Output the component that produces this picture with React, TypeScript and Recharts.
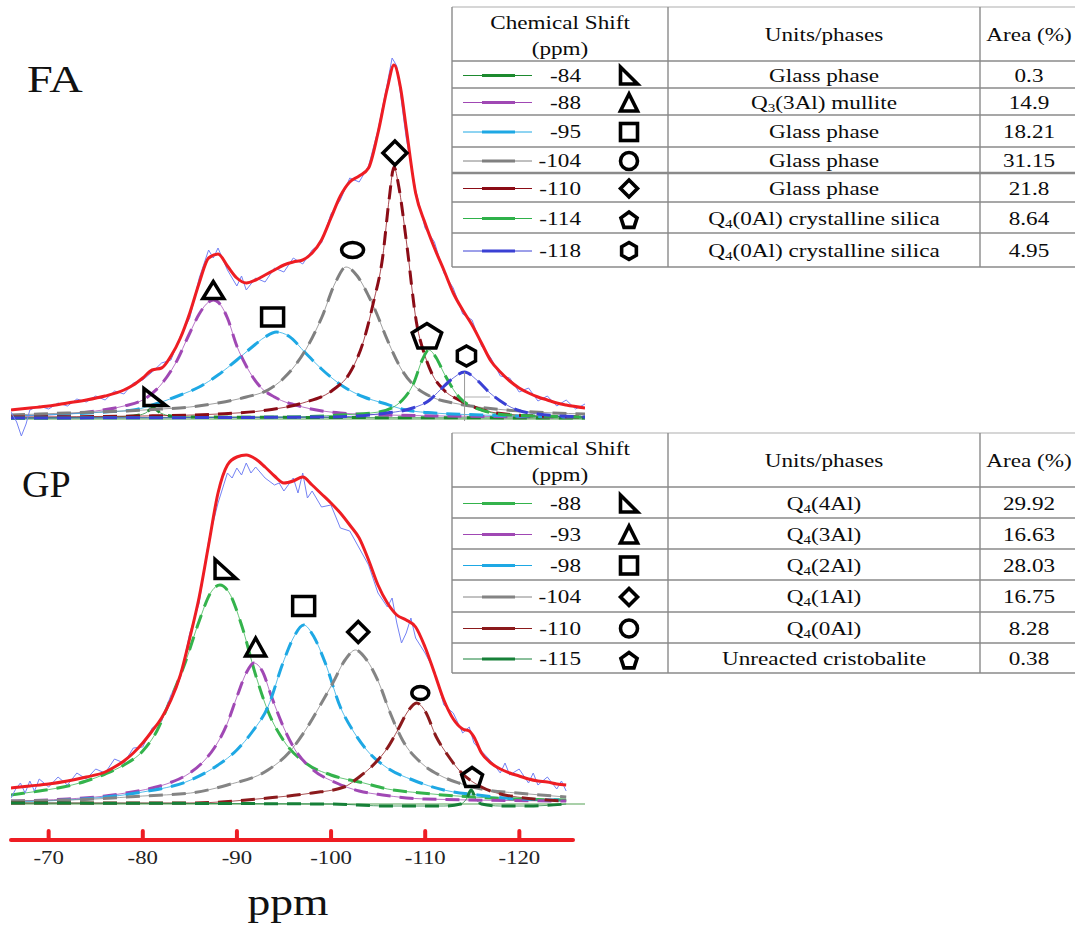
import React from "react";
import { LineChart, Line, XAxis, YAxis, ReferenceLine, ReferenceDot } from "recharts";

type Pt = [number, number];

// ---------- FA spectrum: [ppm, intensity above baseline] ----------
const faExp: Pt[] = [
  [-66, 6], [-66.6, -4], [-67.1, -18], [-67.6, -6], [-68, 8], [-69, 12], [-70, 9], [-71, 15], [-72, 12],
  [-73, 19], [-74, 16], [-75, 22], [-76, 18], [-77, 27], [-78, 24], [-79, 35], [-80, 38], [-81, 46],
  [-82, 55], [-83, 58], [-84, 82], [-85, 100], [-86, 140], [-87, 168], [-87.5, 160], [-88, 170],
  [-89, 148], [-90, 132], [-90.5, 142], [-91, 128], [-92, 140], [-93, 136], [-94, 150], [-95, 146],
  [-96, 160], [-97, 154], [-98, 168], [-99, 175], [-100, 204], [-101, 218], [-102, 240], [-103, 236],
  [-104, 252], [-105, 288], [-106, 335], [-106.5, 360], [-107, 352], [-108, 280], [-109, 228],
  [-110, 190], [-111, 176], [-112, 145], [-113, 130], [-114, 104], [-115, 98], [-116, 72], [-117, 60],
  [-118, 42], [-119, 40], [-120, 26], [-121, 30], [-122, 17], [-123, 22], [-124, 12], [-125, 18],
  [-126, 9], [-127, 14],
];
const faFit: Pt[] = [
  [-66, 8], [-68, 10], [-70, 12], [-72, 15], [-74, 18], [-76, 22], [-78, 28], [-79, 33], [-80, 40],
  [-81, 48], [-82, 50], [-83, 62], [-84, 80], [-85, 105], [-86, 135], [-87, 160], [-88, 164],
  [-89, 152], [-90, 140], [-91, 135], [-92, 138], [-93, 143], [-94, 148], [-95, 153], [-96, 156],
  [-97, 158], [-98, 165], [-99, 178], [-100, 200], [-101, 222], [-102, 236], [-103, 242], [-104, 250],
  [-105, 285], [-106, 330], [-106.7, 353], [-107.4, 330], [-108, 290], [-109, 225], [-110, 195],
  [-111, 170], [-112, 148], [-113, 125], [-114, 108], [-115, 93], [-116, 75], [-117, 57], [-118, 46],
  [-119, 37], [-120, 30], [-121, 25], [-122, 21], [-123, 18], [-124, 15], [-125, 13], [-127, 10],
];
const fa84: Pt[] = [
  [-66, 0], [-76, 1], [-79, 2], [-80.3, 5], [-81.1, 10], [-81.9, 5], [-83, 2], [-86, 1], [-127, 0],
];
const fa88: Pt[] = [
  [-66, 2], [-72, 4], [-75, 7], [-78, 12], [-80, 18], [-82, 34], [-83.5, 55], [-85, 85], [-86, 104],
  [-87, 116], [-87.5, 118], [-88, 116], [-89, 100], [-90, 72], [-91, 52], [-92.5, 31], [-94, 21],
  [-97, 11], [-101, 5], [-106, 3], [-112, 2], [-127, 1],
];
const fa95: Pt[] = [
  [-66, 2], [-72, 4], [-76, 6], [-79, 8], [-82, 16], [-84, 23], [-86, 31], [-88, 43], [-90, 58],
  [-91.5, 70], [-93, 81], [-94.2, 86], [-95.5, 82], [-97.3, 65], [-99, 49], [-101.4, 31], [-103.5, 21],
  [-105.5, 15], [-108, 8], [-111, 5], [-116, 3], [-127, 1],
];
const fa104: Pt[] = [
  [-66, 3], [-72, 5], [-78, 7], [-82, 9], [-85, 11], [-88, 15], [-91, 21], [-93.3, 28], [-95, 40],
  [-97.3, 68], [-99, 100], [-100.5, 136], [-101.6, 151], [-102.8, 142], [-104, 122], [-104.7, 108],
  [-106, 78], [-107.6, 47], [-109, 31], [-110.7, 21], [-113, 15], [-115.6, 11], [-120, 7], [-127, 4],
];
const fa110: Pt[] = [
  [-66, 1], [-80, 2], [-88, 4], [-93.3, 8], [-97, 15], [-100.2, 28], [-102, 45], [-103.5, 78],
  [-104.5, 115], [-105.5, 161], [-106.2, 220], [-106.7, 251], [-107.2, 232], [-108, 178], [-109.1, 95],
  [-110, 62], [-110.7, 45], [-112, 28], [-113.6, 18], [-115.5, 10], [-117.6, 5], [-122, 2], [-127, 1],
];
const fa114: Pt[] = [
  [-66, 0], [-95, 1], [-101, 3], [-105.1, 6], [-107.6, 18], [-108.8, 35], [-109.7, 58], [-110.4, 68],
  [-111.2, 60], [-112, 45], [-113.6, 21], [-116, 8], [-119, 3], [-127, 1],
];
const fa118: Pt[] = [
  [-66, 0], [-100, 1], [-105, 4], [-108.7, 10], [-110.5, 18], [-111.6, 28], [-113, 40], [-114.2, 46],
  [-115.5, 38], [-116.9, 25], [-118.5, 14], [-119.8, 8], [-122, 4], [-127, 1],
];
const faMarks: Pt[] = [
  [-81.3, 21], [-87.5, 128], [-93.8, 101], [-102.3, 168], [-106.8, 265], [-110.2, 83], [-114.4, 62],
];

// ---------- GP spectrum ----------
const gpExp: Pt[] = [
  [-66, 5], [-66.5, 14], [-67, 20], [-67.5, 10], [-68, 22], [-68.5, 12], [-69, 24], [-70, 16], [-71, 26],
  [-72, 18], [-73, 30], [-74, 24], [-75, 34], [-76, 30], [-77, 44], [-78, 40], [-79, 55], [-80, 56],
  [-81, 75], [-82, 82], [-83, 108], [-84, 125], [-85, 170], [-86, 200], [-87, 262], [-88, 300],
  [-89, 330], [-89.5, 325], [-90, 335], [-90.5, 328], [-91, 340], [-91.5, 330], [-92, 336], [-93, 325],
  [-94, 318], [-94.5, 320], [-95, 312], [-96, 325], [-96.5, 310], [-97, 330], [-97.5, 305], [-98, 312],
  [-99, 296], [-100, 298], [-101, 275], [-102, 272], [-103, 255], [-104, 238], [-105, 210], [-106, 196],
  [-106.5, 205], [-107, 180], [-107.5, 160], [-108, 170], [-108.5, 185], [-109, 165], [-110, 150],
  [-111, 132], [-112, 98], [-113, 90], [-114, 70], [-114.7, 76], [-115.2, 60], [-116, 52], [-117, 42],
  [-118, 30], [-118.5, 40], [-119, 28], [-120, 34], [-121, 20], [-121.5, 30], [-122, 18], [-123, 26],
  [-124, 14], [-124.5, 22], [-125, 12],
];
const gpFit: Pt[] = [
  [-66, 15], [-68, 17], [-70, 19], [-72, 22], [-74, 26], [-76, 31], [-77, 36], [-78, 42], [-79, 50],
  [-80, 60], [-81, 72], [-82, 85], [-83, 103], [-84, 128], [-85, 165], [-86, 206], [-87, 258],
  [-88, 310], [-89, 338], [-90, 346], [-91, 348], [-92, 344], [-93, 336], [-94, 327], [-95, 320],
  [-96, 322], [-97, 326], [-98, 318], [-99, 309], [-100, 300], [-101, 290], [-102, 278], [-103, 265],
  [-104, 243], [-105, 218], [-106, 200], [-107, 188], [-108, 183], [-109, 176], [-110, 156],
  [-111, 130], [-112, 103], [-113, 84], [-114, 74], [-114.7, 72], [-115.2, 66], [-116, 50], [-117, 40],
  [-118, 34], [-119, 30], [-120, 27], [-121, 24], [-122, 22], [-123, 21], [-124, 19], [-125, 18],
];
const gp88: Pt[] = [
  [-66, 8], [-69, 12], [-71, 15], [-74, 22], [-76, 29], [-78, 38], [-80, 52], [-81.5, 72], [-83, 105],
  [-84.5, 140], [-86, 182], [-87.2, 210], [-88.2, 218], [-89.2, 210], [-90.5, 178], [-92, 128],
  [-93.3, 92], [-95, 62], [-97.3, 40], [-100, 28], [-103.5, 20], [-106, 14], [-109.6, 10], [-115, 6],
  [-120, 4], [-125, 3],
];
const gp93: Pt[] = [
  [-66, 2], [-72, 4], [-76, 7], [-78.2, 10], [-81, 15], [-83.1, 21], [-85, 30], [-86.5, 42], [-87.6, 55],
  [-89, 80], [-90, 106], [-91, 130], [-91.8, 140], [-92.7, 132], [-93.7, 106], [-95, 75], [-96.2, 53],
  [-98, 34], [-100.6, 20], [-103, 12], [-105.5, 8], [-110, 4], [-125, 2],
];
const gp98: Pt[] = [
  [-66, 1], [-72, 3], [-75, 5], [-80, 11], [-85.1, 23], [-88, 38], [-90, 53], [-91.7, 72], [-93.3, 96],
  [-94.9, 140], [-96, 165], [-97.1, 178], [-98.2, 166], [-99.4, 140], [-101, 96], [-102.5, 70],
  [-103.8, 53], [-106, 35], [-108.7, 23], [-112, 13], [-115.6, 8], [-120, 4], [-125, 3],
];
const gp104: Pt[] = [
  [-66, 2], [-75, 4], [-80, 7], [-85.1, 10], [-89, 18], [-93.3, 33], [-95.5, 50], [-97.3, 73], [-99, 100],
  [-100.2, 120], [-101.5, 143], [-102.6, 153], [-103.8, 143], [-105.1, 120], [-106.3, 90], [-107.6, 63],
  [-109.6, 40], [-111.5, 28], [-113.6, 20], [-116.5, 13], [-119.8, 10], [-125, 6],
];
const gp110: Pt[] = [
  [-66, 0], [-85, 0], [-93.3, 5], [-98, 10], [-101.4, 16], [-103, 26], [-104.7, 40], [-106, 55],
  [-107.1, 73], [-108.2, 92], [-109.1, 100], [-110, 92], [-111.2, 66], [-112.4, 48], [-113.6, 33],
  [-116, 16], [-118, 9], [-119.8, 6], [-125, 2],
];
const gp115: Pt[] = [
  [-66, 0], [-100, -1], [-106, -3], [-112, -3], [-113.8, -1], [-114.4, 4], [-114.9, 13], [-115.4, 4],
  [-116, -1], [-118, -3], [-121, -3], [-125, -1],
];
const gpMarks: Pt[] = [
  [-88.8, 234], [-92, 156], [-97.1, 197], [-102.9, 171], [-109.5, 110], [-115, 27],
];

// ---------- tables ----------
const faShifts = ["-84", "-88", "-95", "-104", "-110", "-114", "-118"];
const faUnits = [
  "Glass phase", "Q_3(3Al) mullite", "Glass phase", "Glass phase", "Glass phase",
  "Q_4(0Al) crystalline silica", "Q_4(0Al) crystalline silica",
];
const faAreas = ["0.3", "14.9", "18.21", "31.15", "21.8", "8.64", "4.95"];
const faShapes = ["rtri", "tri", "sq", "circ", "dia", "pent", "hex"];

const gpShifts = ["-88", "-93", "-98", "-104", "-110", "-115"];
const gpUnits = ["Q_4(4Al)", "Q_4(3Al)", "Q_4(2Al)", "Q_4(1Al)", "Q_4(0Al)", "Unreacted cristobalite"];
const gpAreas = ["29.92", "16.63", "28.03", "16.75", "8.28", "0.38"];
const gpShapes = ["rtri", "tri", "sq", "dia", "circ", "pent"];

const axisTicks = [-70, -80, -90, -100, -110, -120];

const faColors = ["#1d8a2f", "#a048b4", "#1ea8e4", "#808080", "#8b0c16", "#2fb14a", "#3a40d4"];
const gpColors = ["#34b34c", "#a048b4", "#1ea8e4", "#848484", "#8b1a1c", "#168038"];
const RED = "#ee1d23";
const SERIF = "'Liberation Serif', 'Times New Roman', serif";

const faSizes: Record<string, [number, number]> = {
  rtri: [22, 17], tri: [21, 17], sq: [22, 18], circ: [22, 15], dia: [24, 24], pent: [31, 27], hex: [21, 20],
};
const gpSizes: Record<string, [number, number]> = {
  rtri: [21, 19], tri: [20, 18], sq: [22, 19], circ: [17, 13], dia: [21, 21], pent: [22, 21],
};

const rows = (pts: Pt[]) => pts.map(([x, y]) => ({ x, y }));

function Glyph({ kind, cx, cy, w, h, sw = 3.5 }: { kind: string; cx: number; cy: number; w: number; h: number; sw?: number }) {
  const l = cx - w / 2, r = cx + w / 2, t = cy - h / 2, b = cy + h / 2;
  const common = { fill: "none", stroke: "#000", strokeWidth: sw, strokeLinejoin: "miter" as const };
  if (kind === "rtri") return <polygon points={`${l},${t} ${l},${b} ${r},${b}`} {...common} />;
  if (kind === "tri") return <polygon points={`${cx},${t} ${l},${b} ${r},${b}`} {...common} />;
  if (kind === "sq") return <rect x={l} y={t} width={w} height={h} {...common} />;
  if (kind === "circ") return <ellipse cx={cx} cy={cy} rx={w / 2} ry={h / 2} {...common} />;
  if (kind === "dia") return <polygon points={`${cx},${t} ${r},${cy} ${cx},${b} ${l},${cy}`} {...common} />;
  if (kind === "pent") {
    const pts = [0, 1, 2, 3, 4].map((i) => {
      const a = -Math.PI / 2 + (i * 2 * Math.PI) / 5;
      return `${cx + (w / 2) * Math.cos(a)},${cy + 2 + (h / 2) * Math.sin(a)}`;
    });
    return <polygon points={pts.join(" ")} {...common} />;
  }
  const pts = [0, 1, 2, 3, 4, 5].map((i) => {
    const a = -Math.PI / 2 + (i * Math.PI) / 3;
    return `${cx + (w / 2) * Math.cos(a)},${cy + (h / 2) * Math.sin(a)}`;
  });
  return <polygon points={pts.join(" ")} {...common} />;
}

function Panel(props: {
  top: number; comps: Pt[][]; colors: string[]; exp: Pt[]; fit: Pt[];
  marks: Pt[]; shapes: string[]; sizes: Record<string, [number, number]>; children?: React.ReactNode;
}) {
  const { top, comps, colors, exp, fit, marks, shapes, sizes } = props;
  return (
    <div style={{ position: "absolute", left: 0, top }}>
      <LineChart width={600} height={450} margin={{ top: 58, right: 15, bottom: 12, left: 11 }}>
        <XAxis hide type="number" dataKey="x" domain={[-127, -66]} reversed allowDataOverflow />
        <YAxis hide type="number" domain={[-20, 360]} allowDataOverflow />
        <ReferenceLine y={-1} stroke="#8cc08c" strokeWidth={1.5} />
        {comps.map((c, i) => (
          <Line key={"thin" + i} data={rows(c)} dataKey="y" type="monotone" stroke={colors[i]}
            strokeOpacity={0.75} strokeWidth={1} dot={false} activeDot={false} isAnimationActive={false} />
        ))}
        {comps.map((c, i) => (
          <Line key={"dash" + i} data={rows(c)} dataKey="y" type="monotone" stroke={colors[i]}
            strokeWidth={3} strokeDasharray="14 9" dot={false} activeDot={false} isAnimationActive={false} />
        ))}
        {props.children}
        <Line data={rows(exp)} dataKey="y" type="linear" stroke="#7482f4" strokeWidth={1}
          dot={false} activeDot={false} isAnimationActive={false} />
        <Line data={rows(fit)} dataKey="y" type="monotone" stroke={RED} strokeWidth={3}
          dot={false} activeDot={false} isAnimationActive={false} />
        {marks.map(([x, y], i) => (
          <ReferenceDot key={"m" + i} x={x} y={y} r={1} ifOverflow="visible"
            shape={(p: any) => <Glyph kind={shapes[i]} cx={p.cx} cy={p.cy} w={sizes[shapes[i]][0]} h={sizes[shapes[i]][1]} />} />
        ))}
      </LineChart>
    </div>
  );
}

const AxisTick = (props: any) => {
  const { x, y, payload } = props;
  return (
    <g>
      <line x1={x} x2={x} y1={y} y2={y - 9} stroke={RED} strokeWidth={4} strokeLinecap="round" />
      <text transform={`translate(${x},${y + 24}) scale(1.2,1)`} textAnchor="middle" fontFamily={SERIF}
        fontSize={19} fill="#222">{payload.value}</text>
    </g>
  );
};

function Label({ text, x, y, size = 19, anchor = "middle" }: { text: string; x: number; y: number; size?: number; anchor?: string }) {
  const m = text.match(/^Q_(\d)(.*)$/);
  return (
    <text transform={`translate(${x},${y}) scale(1.22,1)`} textAnchor={anchor as any} dominantBaseline="central"
      fontFamily={SERIF} fontSize={size} fill="#0c0c0c">
      {m ? (
        <>
          <tspan>Q</tspan>
          <tspan fontSize={size * 0.65} dy={5}>{m[1]}</tspan>
          <tspan dy={-5}>{m[2]}</tspan>
        </>
      ) : text}
    </text>
  );
}

function DataTable(props: {
  top: number; rowHs: number[]; shifts: string[]; units: string[]; areas: string[];
  colors: string[]; shapes: string[]; thickAfter?: number;
}) {
  const { top, rowHs, shifts, units, areas, colors, shapes, thickAfter } = props;
  const L = 452, C1 = 668, C2 = 980, R = 1090, headH = 54;
  const ys = [top, top + headH];
  rowHs.forEach((h) => ys.push(ys[ys.length - 1] + h));
  const bottom = ys[ys.length - 1];
  return (
    <g>
      {ys.map((y, i) => (
        <line key={"h" + i} x1={L} x2={R} y1={y} y2={y}
          stroke={i === 0 ? "#c8c8c8" : "#8a8a8a"} strokeWidth={thickAfter !== undefined && i === thickAfter + 2 ? 2.6 : 1.6} />
      ))}
      {[L, C1, C2].map((x, i) => (
        <line key={"v" + i} x1={x} x2={x} y1={top} y2={bottom} stroke="#8a8a8a" strokeWidth={1.4} />
      ))}
      <Label text="Chemical Shift" x={(L + C1) / 2} y={top + 16} />
      <Label text="(ppm)" x={(L + C1) / 2} y={top + 42} />
      <Label text="Units/phases" x={(C1 + C2) / 2} y={top + 28} />
      <Label text="Area (%)" x={1029} y={top + 28} />
      {shifts.map((s, i) => {
        const cy = (ys[i + 1] + ys[i + 2]) / 2 + 1;
        return (
          <g key={"r" + i}>
            <line x1={463} x2={532} y1={cy} y2={cy} stroke={colors[i]} strokeWidth={1} />
            <line x1={482} x2={515} y1={cy} y2={cy} stroke={colors[i]} strokeWidth={3} />
            <Label text={s} x={581} y={cy} anchor="end" />
            <Glyph kind={shapes[i]} cx={629} cy={cy} w={17} h={17} sw={3.6} />
            <Label text={units[i]} x={(C1 + C2) / 2} y={cy} />
            <Label text={areas[i]} x={1029} y={cy} />
          </g>
        );
      })}
    </g>
  );
}

export default function App() {
  return (
    <div style={{ position: "absolute", left: 0, top: 0, width: 1075, height: 928, background: "#fff", overflow: "hidden" }}>
      <Panel top={0} comps={[fa84, fa88, fa95, fa104, fa110, fa114, fa118]} colors={faColors}
        exp={faExp} fit={faFit} marks={faMarks} shapes={faShapes} sizes={faSizes}>
        <ReferenceLine segment={[{ x: -114.2, y: 46 }, { x: -114.2, y: -3 }]} stroke="#9a9a9a" strokeWidth={1} />
        <ReferenceLine segment={[{ x: -114.2, y: 21 }, { x: -116.9, y: 21 }]} stroke="#b0b0b0" strokeWidth={1} />
      </Panel>
      <Panel top={385} comps={[gp88, gp93, gp98, gp104, gp110, gp115]} colors={gpColors}
        exp={gpExp} fit={gpFit} marks={gpMarks} shapes={gpShapes} sizes={gpSizes} />
      <div style={{ position: "absolute", left: 0, top: 740 }}>
        <LineChart width={600} height={140} margin={{ top: 50, right: 27, bottom: 0, left: 11 }}>
          <XAxis type="number" dataKey="x" domain={[-125.7, -66]} reversed allowDataOverflow ticks={axisTicks}
            interval={0} height={40} tickSize={0} tickMargin={0} tickLine={false}
            axisLine={{ stroke: RED, strokeWidth: 4, strokeLinecap: "round" }} tick={(p: any) => <AxisTick {...p} />} />
          <YAxis hide domain={[0, 1]} />
          <Line data={[{ x: -70, y: 0.5 }, { x: -120, y: 0.5 }]} dataKey="y" stroke="none" dot={false}
            activeDot={false} isAnimationActive={false} />
        </LineChart>
      </div>
      <svg width={1075} height={928} style={{ position: "absolute", left: 0, top: 0, pointerEvents: "none" }}>
        <text transform="translate(27,92) scale(1.22,1)" fontFamily={SERIF} fontSize={38} fill="#111">FA</text>
        <text transform="translate(22,497) scale(1.0,1)" fontFamily={SERIF} fontSize={38} fill="#111">GP</text>
        <text transform="translate(288,915) scale(1.2,1)" textAnchor="middle" fontFamily={SERIF} fontSize={38} fill="#111">ppm</text>
        <DataTable top={7} rowHs={[27, 27, 32, 26, 29, 31, 34]} shifts={faShifts} units={faUnits}
          areas={faAreas} colors={faColors} shapes={faShapes} thickAfter={3} />
        <DataTable top={433} rowHs={[31, 31, 31, 32, 31, 30]} shifts={gpShifts} units={gpUnits}
          areas={gpAreas} colors={gpColors} shapes={gpShapes} />
      </svg>
    </div>
  );
}
